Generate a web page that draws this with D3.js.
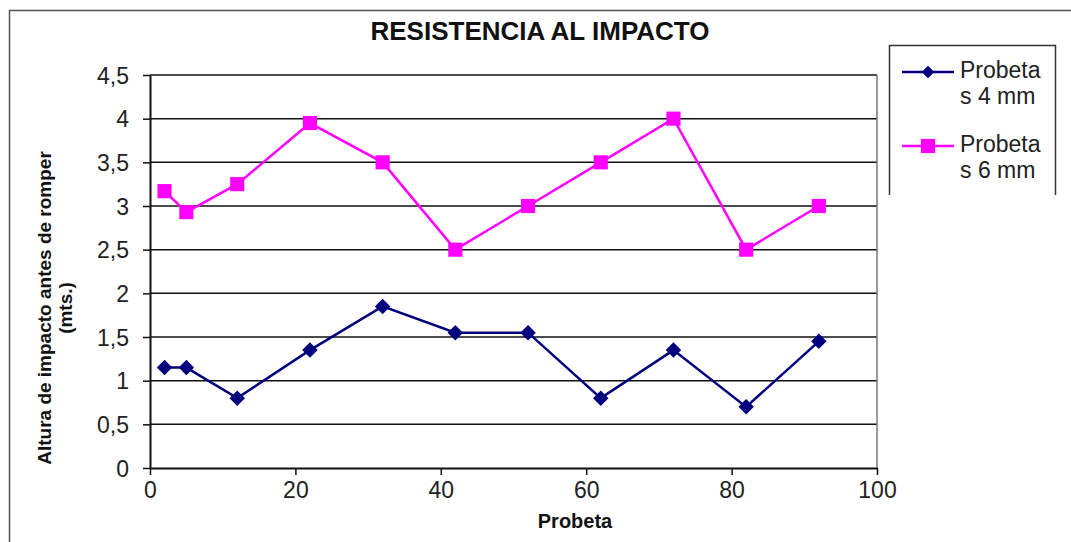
<!DOCTYPE html>
<html><head><meta charset="utf-8">
<script src="https://cdn.jsdelivr.net/npm/d3@7"></script>
<style>body{margin:0;background:#fff}svg{display:block}text{font-family:"Liberation Sans",Arial,sans-serif}</style>
</head><body><svg id="c" width="1071" height="542"></svg>
<script>
const xValues = [2, 5, 12, 22, 32, 42, 52, 62, 72, 82, 92];
const series4mm = [1.15, 1.15, 0.8, 1.35, 1.85, 1.55, 1.55, 0.8, 1.35, 0.7, 1.45];
const series6mm = [3.17, 2.93, 3.25, 3.95, 3.5, 2.5, 3.0, 3.5, 4.0, 2.5, 3.0];
const seriesNames = [["Probeta", "s 4 mm"], ["Probeta", "s 6 mm"]];
const yTicks = [0, 0.5, 1, 1.5, 2, 2.5, 3, 3.5, 4, 4.5];
const xTicks = [0, 20, 40, 60, 80, 100];
const title = "RESISTENCIA AL IMPACTO";
const xLabel = "Probeta";
const yLabel = ["Altura de impacto antes de romper", "(mts.)"];

const svg = d3.select("#c");
const L = 150, R = 877, T = 75, B = 468;
const x = d3.scaleLinear().domain([0, 100]).range([L, R]);
const y = d3.scaleLinear().domain([0, 4.5]).range([B, T]);
const fmt = d => String(d).replace(".", ",");

// outer border
svg.append("path").attr("d", "M9.5,542 V10.5 H1071").attr("fill", "none").attr("stroke", "#555").attr("stroke-width", 1.5);

// title
svg.append("text").attr("x", 540).attr("y", 40).attr("text-anchor", "middle")
  .attr("font-size", 26).attr("font-weight", "bold").attr("fill", "#111").text(title);

// gridlines
svg.append("g").selectAll("line").data(yTicks.filter(d => d > 0)).join("line")
  .attr("x1", L).attr("x2", R).attr("y1", d => y(d)).attr("y2", d => y(d))
  .attr("stroke", "#111").attr("stroke-width", 1.5);
// right plot border
svg.append("line").attr("x1", R).attr("x2", R).attr("y1", T).attr("y2", B).attr("stroke", "#777").attr("stroke-width", 1.5);

// axes
const ya = svg.append("g").attr("transform", `translate(${L},0)`)
  .call(d3.axisLeft(y).tickValues(yTicks).tickFormat(fmt).tickSize(7).tickSizeOuter(0));
const xa = svg.append("g").attr("transform", `translate(0,${B})`)
  .call(d3.axisBottom(x).tickValues(xTicks).tickFormat(fmt).tickSize(7).tickSizeOuter(0));
[ya, xa].forEach(g => {
  g.select(".domain").attr("stroke", "#111").attr("stroke-width", 2);
  g.selectAll(".tick line").attr("stroke", "#111").attr("stroke-width", 1.5);
  g.selectAll("text").attr("font-size", 23).attr("fill", "#222")
    .attr("font-family", '"Liberation Sans",Arial,sans-serif');
});
ya.selectAll("text").attr("x", -21).attr("dy", "0.36em");
xa.selectAll("text").attr("y", 14);

// axis labels
svg.append("text").attr("x", 575).attr("y", 528).attr("text-anchor", "middle")
  .attr("font-size", 20).attr("font-weight", "bold").attr("fill", "#111").text(xLabel);
const yl = svg.append("text").attr("transform", "translate(51,308) rotate(-90)")
  .attr("text-anchor", "middle").attr("font-size", 19).attr("font-weight", "bold").attr("fill", "#111");
yl.append("tspan").attr("x", 0).attr("dy", 0).text(yLabel[0]);
yl.append("tspan").attr("x", 0).attr("dy", 21).text(yLabel[1]);

const line = d3.line().x((d, i) => x(xValues[i])).y(d => y(d));
const colors = ["#00007f", "#ff00ff"];
[series4mm, series6mm].forEach((s, k) => {
  svg.append("path").datum(s).attr("d", line).attr("fill", "none")
    .attr("stroke", colors[k]).attr("stroke-width", 2.5);
  svg.append("g").selectAll("path").data(s).join("path")
    .attr("d", k === 0 ? d3.symbol(d3.symbolSquare, 120)() : d3.symbol(d3.symbolSquare, 200)())
    .attr("transform", (d, i) => `translate(${x(xValues[i])},${y(d)})` + (k === 0 ? " rotate(45)" : ""))
    .attr("fill", colors[k]);
});

// legend
svg.append("path").attr("d", "M889.5,195 V45.5 H1055.5 V195").attr("fill", "none").attr("stroke", "#333").attr("stroke-width", 1.5);
const ly = [72, 146];
seriesNames.forEach((nm, k) => {
  svg.append("line").attr("x1", 902).attr("x2", 954).attr("y1", ly[k]).attr("y2", ly[k])
    .attr("stroke", colors[k]).attr("stroke-width", 2.5);
  svg.append("path").attr("d", k === 0 ? d3.symbol(d3.symbolSquare, 80)() : d3.symbol(d3.symbolSquare, 200)())
    .attr("transform", `translate(928,${ly[k]})` + (k === 0 ? " rotate(45)" : "")).attr("fill", colors[k]);
  const t = svg.append("text").attr("x", 960).attr("y", ly[k] + 6).attr("font-size", 23).attr("fill", "#222");
  t.append("tspan").attr("x", 960).text(nm[0]);
  t.append("tspan").attr("x", 960).attr("dy", 26).text(nm[1]);
});
</script></body></html>
